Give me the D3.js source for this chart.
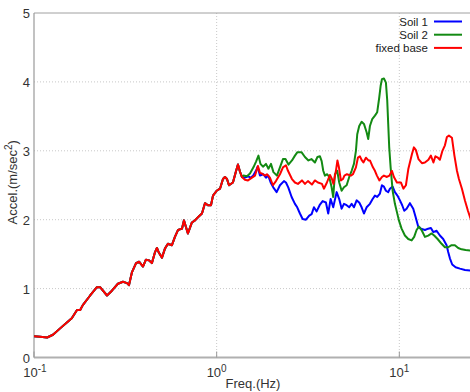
<!DOCTYPE html>
<html>
<head>
<meta charset="utf-8">
<script src="https://cdn.jsdelivr.net/npm/d3@7"></script>
<style>
  html, body { margin: 0; padding: 0; background: #fff; }
  svg { display: block; font-family: "Liberation Sans", Arial, sans-serif; }
</style>
</head>
<body>
<svg id="chart" width="470" height="392"></svg>
<script>
// Low-frequency part shared by all three responses (Hz, m/s^2)
const baseFreq = [0.100, 0.108, 0.118, 0.127, 0.140, 0.153, 0.161, 0.172, 0.179, 0.185,
  0.203, 0.221, 0.230, 0.251, 0.267, 0.288, 0.307, 0.323, 0.331, 0.344,
  0.362, 0.376, 0.395, 0.410, 0.426, 0.442, 0.460, 0.471, 0.483, 0.502,
  0.521, 0.541, 0.569, 0.591, 0.614, 0.646, 0.662, 0.696, 0.732, 0.761,
  0.800, 0.831, 0.863, 0.896, 0.931, 0.955, 1.000, 1.043, 1.083, 1.110,
  1.139, 1.168, 1.228, 1.275, 1.308, 1.341, 1.375];
const baseAccel = [0.31, 0.30, 0.29, 0.33, 0.43, 0.52, 0.57, 0.69, 0.69, 0.76,
  0.90, 1.02, 1.02, 0.90, 0.97, 1.07, 1.10, 1.08, 1.05, 1.24,
  1.37, 1.39, 1.32, 1.42, 1.41, 1.37, 1.53, 1.59, 1.52, 1.45,
  1.58, 1.65, 1.63, 1.75, 1.85, 1.87, 1.99, 1.80, 1.96, 1.99,
  2.05, 2.09, 2.24, 2.21, 2.21, 2.35, 2.42, 2.45, 2.59, 2.62,
  2.59, 2.50, 2.54, 2.70, 2.80, 2.70, 2.62];

// Soil 1
const soil1Freq = [1.428, 1.489, 1.535, 1.586, 1.641, 1.677, 1.726, 1.799, 1.862, 1.916,
  1.975, 2.041, 2.130, 2.221, 2.336, 2.395, 2.466, 2.573, 2.683, 2.761,
  2.857, 2.956, 3.082, 3.212, 3.311, 3.409, 3.527, 3.677, 3.804, 3.965,
  4.081, 4.207, 4.347, 4.538, 4.688, 4.833, 4.976, 5.148, 5.319, 5.483,
  5.644, 5.838, 6.033, 6.219, 6.402, 6.622, 6.904, 7.143, 7.354, 7.568,
  7.831, 8.032, 8.236, 8.446, 8.695, 8.883, 9.192, 9.461, 9.763, 10.08,
  10.37, 10.64, 10.96, 11.43, 11.92, 12.28, 12.69, 13.13, 13.81, 14.39,
  14.89, 15.34, 16.00, 16.68, 17.39, 18.15, 18.52, 18.92, 19.48, 20.33,
  21.47, 22.87, 24.66];
const soil1Accel = [2.61, 2.63, 2.61, 2.64, 2.71, 2.77, 2.64, 2.66, 2.61, 2.64,
  2.54, 2.47, 2.40, 2.50, 2.56, 2.54, 2.47, 2.33, 2.23, 2.18,
  2.09, 2.01, 2.00, 2.06, 2.08, 2.18, 2.12, 2.22, 2.27, 2.25,
  2.09, 2.30, 2.18, 2.40, 2.30, 2.16, 2.23, 2.21, 2.18, 2.23,
  2.18, 2.28, 2.25, 2.18, 2.09, 2.18, 2.23, 2.30, 2.35, 2.33,
  2.38, 2.50, 2.48, 2.42, 2.40, 2.45, 2.48, 2.40, 2.35, 2.28,
  2.21, 2.13, 2.16, 2.24, 2.16, 2.04, 1.90, 1.87, 1.85, 1.87,
  1.88, 1.82, 1.84, 1.77, 1.72, 1.63, 1.53, 1.44, 1.35, 1.31,
  1.29, 1.27, 1.26];

// Soil 2
const soil2Freq = [1.402, 1.465, 1.522, 1.590, 1.641, 1.694, 1.737, 1.793, 1.862, 1.921,
  1.983, 2.046, 2.138, 2.221, 2.307, 2.381, 2.472, 2.584, 2.683, 2.769,
  2.913, 3.043, 3.180, 3.303, 3.451, 3.562, 3.677, 3.757, 3.833, 3.916,
  4.031, 4.134, 4.260, 4.347, 4.441, 4.572, 4.688, 4.833, 4.976, 5.148,
  5.319, 5.483, 5.644, 5.787, 5.884, 6.033, 6.219, 6.402, 6.622, 6.757,
  6.904, 7.107, 7.354, 7.568, 7.762, 7.899, 8.032, 8.236, 8.446, 8.587,
  8.695, 8.805, 8.963, 9.192, 9.461, 9.703, 9.950, 10.29, 10.73, 11.19,
  11.68, 12.06, 12.43, 12.81, 13.24, 13.81, 14.39, 15.03, 15.52, 16.20,
  17.04, 17.77, 18.52, 19.33, 20.15, 21.01, 21.93, 23.06, 24.66];
const soil2Accel = [2.64, 2.63, 2.67, 2.76, 2.84, 2.93, 2.81, 2.77, 2.81, 2.74,
  2.81, 2.69, 2.64, 2.76, 2.88, 2.88, 2.80, 2.86, 2.93, 2.98,
  2.98, 2.91, 2.86, 2.88, 2.83, 2.91, 2.92, 2.85, 2.71, 2.64,
  2.66, 2.62, 2.47, 2.33, 2.66, 2.71, 2.54, 2.42, 2.47, 2.50,
  2.62, 2.71, 2.81, 3.00, 3.24, 3.36, 3.42, 3.39, 3.27, 3.17,
  3.36, 3.46, 3.51, 3.56, 3.77, 3.94, 4.04, 4.05, 3.99, 3.73,
  3.39, 3.05, 2.76, 2.42, 2.23, 2.11, 1.99, 1.87, 1.77, 1.72,
  1.70, 1.75, 1.85, 1.90, 1.85, 1.75, 1.77, 1.80, 1.77, 1.72,
  1.65, 1.60, 1.60, 1.63, 1.63, 1.59, 1.57, 1.56, 1.55];

// Fixed base
const fixedFreq = [1.428, 1.484, 1.561, 1.621, 1.683, 1.726, 1.770, 1.838, 1.885, 1.957,
  2.033, 2.111, 2.221, 2.307, 2.395, 2.457, 2.584, 2.683, 2.786, 2.931,
  3.043, 3.160, 3.323, 3.451, 3.585, 3.771, 3.866, 4.015, 4.170, 4.277,
  4.358, 4.498, 4.584, 4.671, 4.790, 4.912, 5.006, 5.167, 5.434, 5.572,
  5.787, 5.934, 6.086, 6.241, 6.360, 6.564, 6.775, 6.904, 7.170, 7.354,
  7.541, 7.783, 8.032, 8.236, 8.553, 8.827, 9.110, 9.341, 9.703, 10.20,
  10.53, 10.87, 11.21, 11.72, 12.02, 12.33, 12.73, 13.30, 13.81, 14.43,
  14.89, 15.37, 15.76, 16.27, 16.68, 17.22, 17.77, 18.22, 18.69, 19.41,
  20.03, 20.68, 21.20, 22.02, 22.87, 23.75, 24.66];
const fixedAccel = [2.58, 2.57, 2.61, 2.64, 2.78, 2.68, 2.67, 2.64, 2.66, 2.61,
  2.50, 2.56, 2.66, 2.76, 2.79, 2.71, 2.59, 2.54, 2.52, 2.57,
  2.52, 2.56, 2.51, 2.57, 2.54, 2.52, 2.45, 2.54, 2.65, 2.59,
  2.52, 2.71, 2.86, 2.76, 2.57, 2.59, 2.64, 2.66, 2.64, 2.66,
  2.76, 2.90, 2.92, 2.86, 2.83, 2.90, 2.86, 2.86, 2.76, 2.71,
  2.64, 2.57, 2.62, 2.64, 2.62, 2.64, 2.71, 2.62, 2.54, 2.54,
  2.45, 2.50, 2.74, 2.95, 3.05, 3.01, 2.88, 2.82, 2.83, 2.87,
  2.93, 2.83, 2.92, 2.90, 2.87, 3.00, 3.08, 3.20, 3.22, 3.19,
  2.93, 2.71, 2.59, 2.45, 2.28, 2.13, 2.00];

const seriesNames = ["Soil 1", "Soil 2", "fixed base"];
const seriesColors = ["#0000ff", "#138a13", "#ff0000"];
const yTicks = [0, 1, 2, 3, 4, 5];
const xTickExp = [-1, 0, 1];

const series = [
  { name: seriesNames[0], color: seriesColors[0], f: baseFreq.concat(soil1Freq), a: baseAccel.concat(soil1Accel) },
  { name: seriesNames[1], color: seriesColors[1], f: baseFreq.concat(soil2Freq), a: baseAccel.concat(soil2Accel) },
  { name: seriesNames[2], color: seriesColors[2], f: baseFreq.concat(fixedFreq), a: baseAccel.concat(fixedAccel) }
];

const plotL = 34, plotR = 472, plotT = 13, plotB = 357.5;
const svg = d3.select("#chart");

const x = d3.scaleLog().domain([0.1, 25]).range([plotL, plotR]);
const y = d3.scaleLinear().domain([0, 5]).range([plotB, plotT]);

// dotted grid
const grid = svg.append("g").attr("stroke", "#c8c8c8").attr("stroke-dasharray", "1,2").attr("stroke-width", 1);
yTicks.filter(v => v > 0 && v < 5).forEach(v => {
  grid.append("line").attr("x1", plotL).attr("x2", plotR).attr("y1", y(v)).attr("y2", y(v));
});
xTickExp.filter(e => e > -1).forEach(e => {
  grid.append("line").attr("x1", x(Math.pow(10, e))).attr("x2", x(Math.pow(10, e)))
    .attr("y1", plotT).attr("y2", plotB);
});

// frame
svg.append("line").attr("x1", plotL).attr("x2", plotR).attr("y1", plotT).attr("y2", plotT)
  .attr("stroke", "#a0a0a0").attr("stroke-width", 1);
svg.append("line").attr("x1", plotL).attr("x2", plotL).attr("y1", plotT).attr("y2", plotB)
  .attr("stroke", "#999").attr("stroke-width", 1.2);
svg.append("line").attr("x1", plotL).attr("x2", plotR).attr("y1", plotB).attr("y2", plotB)
  .attr("stroke", "#b0b0b0").attr("stroke-width", 2);

// bottom ticks
xTickExp.forEach(e => {
  svg.append("line").attr("x1", x(Math.pow(10, e))).attr("x2", x(Math.pow(10, e)))
    .attr("y1", plotB).attr("y2", plotB - 6).attr("stroke", "#999");
});

// y tick labels
svg.append("g").selectAll("text").data(yTicks).join("text")
  .attr("x", plotL - 4).attr("y", d => y(d) + 5)
  .attr("text-anchor", "end").attr("font-size", 13).attr("fill", "#333")
  .text(d => d);

// x tick labels (powers of ten)
xTickExp.forEach(e => {
  const t = svg.append("text").attr("x", x(Math.pow(10, e)) + (e < 0 ? 1 : 0)).attr("y", plotB + 19)
    .attr("text-anchor", "middle").attr("font-size", 13).attr("fill", "#333");
  t.append("tspan").text("10");
  t.append("tspan").attr("dy", -5).attr("font-size", 10).text(String(e));
});

// axis titles
svg.append("text").attr("x", (plotL + plotR) / 2).attr("y", 388)
  .attr("text-anchor", "middle").attr("font-size", 13).attr("fill", "#333").text("Freq.(Hz)");
const yl = svg.append("text").attr("transform", `translate(17,${(plotT + plotB) / 2 - 3}) rotate(-90)`)
  .attr("text-anchor", "middle").attr("font-size", 13).attr("fill", "#333");
yl.append("tspan").text("Accel.(m/sec");
yl.append("tspan").attr("dy", -5).attr("font-size", 10).text("2");
yl.append("tspan").attr("dy", 5).text(")");

// curves
const line = d3.line().x(d => x(d[0])).y(d => y(d[1]));
svg.append("defs").append("clipPath").attr("id", "plot")
  .append("rect").attr("x", plotL).attr("y", plotT).attr("width", plotR - plotL).attr("height", plotB - plotT);
const curves = svg.append("g").attr("clip-path", "url(#plot)");
series.forEach(s => {
  curves.append("path")
    .datum(s.f.map((f, i) => [f, s.a[i]]))
    .attr("d", line).attr("fill", "none")
    .attr("stroke", s.color).attr("stroke-width", 2)
    .attr("stroke-linejoin", "round");
});

// legend
const lg = svg.append("g");
series.forEach((s, i) => {
  const ly = 21.5 + i * 13.2;
  lg.append("text").attr("x", 428).attr("y", ly + 4).attr("text-anchor", "end")
    .attr("font-size", 11.5).attr("fill", "#222").text(s.name);
  lg.append("line").attr("x1", 434).attr("x2", 462).attr("y1", ly).attr("y2", ly)
    .attr("stroke", s.color).attr("stroke-width", 2);
});
</script>
</body>
</html>
